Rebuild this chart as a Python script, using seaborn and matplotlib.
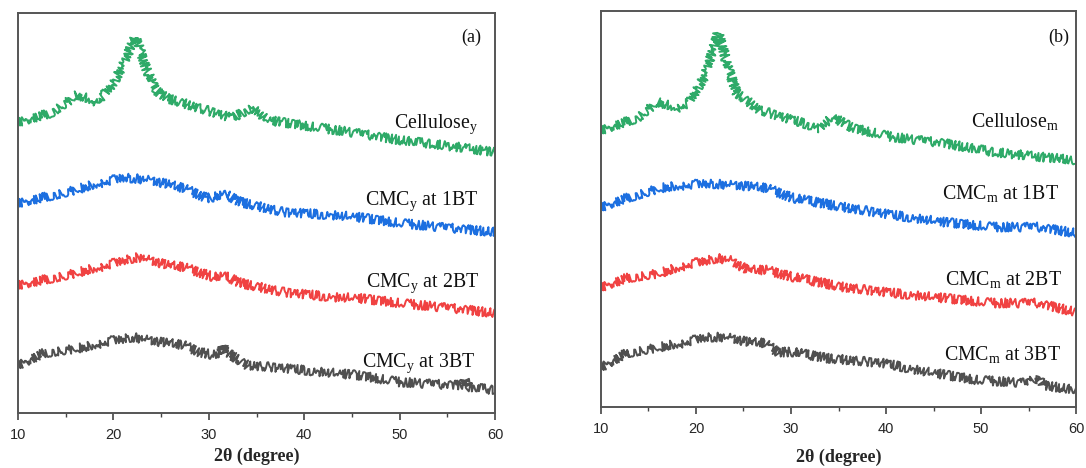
import matplotlib
matplotlib.use("Agg")
import matplotlib.pyplot as plt
from matplotlib.ticker import MultipleLocator
import seaborn as sns
import pandas as pd

sns.set_theme(style="white")
plt.rcParams["font.family"] = ["Liberation Serif", "DejaVu Serif"]
plt.rcParams["mathtext.fontset"] = "custom"
plt.rcParams["mathtext.rm"] = "Liberation Serif"
plt.rcParams["mathtext.it"] = "Liberation Serif:italic"

# ---- XRD patterns (2theta in degrees, intensity in a.u., stacked with offsets) ----
# Panel (a): cellulose and CMC from source y
cell_y_tt = [10, 13.4, 16.2, 18.3, 20, 21.4, 21.9, 22.3, 22.7, 23.5, 24.4, 25.6, 29, 32.5, 34.5, 36.1, 39.6, 44.8, 50, 55.3, 60]
cell_y_int = [291, 300, 318, 311, 330, 356, 368, 376, 366, 343, 323, 315, 305, 295, 306, 293, 288, 281, 273, 267, 261]

cmc_y1_tt = [10, 15.1, 18.6, 21, 23.8, 27.3, 29.8, 31.9, 33.3, 37.8, 43, 45.5, 50, 55.3, 60]
cmc_y1_int = [210, 221, 230, 236, 233, 225, 215, 218, 211, 201, 198, 196, 190, 185, 181]

cmc_y2_tt = [10, 15.1, 18.6, 21, 22.7, 25.6, 27.3, 30.5, 32, 33.3, 37.8, 43, 45.5, 50, 55.3, 60]
cmc_y2_int = [128, 138, 146, 153, 156, 148, 146, 136, 136, 130, 121, 116, 115, 110, 105, 100]

cmc_y3_tt = [10, 12.7, 17.1, 20, 22, 24.9, 27.3, 29, 30.5, 31.3, 31.5, 31.7, 32, 34, 37.8, 43, 45.5, 50, 55.3, 56.7, 56.9, 57.2, 60]
cmc_y3_int = [48, 60, 66, 73, 76, 71, 68, 61, 58, 59, 68, 60, 60, 48, 45, 40, 38, 31, 28, 28, 34, 26, 23]

# Panel (b): cellulose and CMC from source m
cell_m_tt = [10, 13.8, 15.9, 18, 19.2, 20.8, 21.8, 22.3, 22.8, 23.2, 24.3, 26.7, 30.2, 33, 34.4, 36.5, 40.7, 46, 51.3, 56.5, 60]
cell_m_int = [277, 289, 305, 299, 304, 329, 357, 374, 362, 344, 314, 297, 287, 279, 290, 279, 270, 264, 255, 250, 247]

cmc_m1_tt = [10, 12.7, 16.2, 20.8, 23.9, 27.4, 30.2, 35.5, 40.8, 46, 51.3, 55.9, 60]
cmc_m1_int = [200, 209, 219, 224, 222, 219, 209, 200, 192, 185, 180, 180, 174]

cmc_m2_tt = [10, 12.7, 16.2, 19.7, 22.2, 23.6, 25.4, 27.4, 30.2, 35.5, 40.8, 46, 51.3, 55.9, 60]
cmc_m2_int = [120, 129, 134, 144, 149, 147, 137, 137, 130, 120, 114, 109, 104, 104, 95]

cmc_m3_tt = [10, 12.7, 16.2, 18.6, 20.8, 23.2, 25.4, 27.2, 28.6, 30.2, 33.7, 39.7, 44.4, 49.6, 54.9, 56.1, 56.5, 60]
cmc_m3_int = [40, 54, 60, 64, 70, 70, 65, 64, 55, 55, 49, 44, 35, 27, 24, 30, 22, 17]

labels_a = ["Cellulose$_\\mathregular{y}$", "CMC$_\\mathregular{y}$ at 1BT",
            "CMC$_\\mathregular{y}$ at 2BT", "CMC$_\\mathregular{y}$ at 3BT"]
labels_b = ["Cellulose$_\\mathregular{m}$", "CMC$_\\mathregular{m}$ at 1BT",
            "CMC$_\\mathregular{m}$ at 2BT", "CMC$_\\mathregular{m}$ at 3BT"]
xticks = [10, 20, 30, 40, 50, 60]

colors = ["#2eaa68", "#1c6fe0", "#f04242", "#505050"]


def frame(tt, inten, name):
    return pd.DataFrame({"2theta": tt, "intensity": inten, "sample": name})


panel_a = [frame(cell_y_tt, cell_y_int, labels_a[0]), frame(cmc_y1_tt, cmc_y1_int, labels_a[1]),
           frame(cmc_y2_tt, cmc_y2_int, labels_a[2]), frame(cmc_y3_tt, cmc_y3_int, labels_a[3])]
panel_b = [frame(cell_m_tt, cell_m_int, labels_b[0]), frame(cmc_m1_tt, cmc_m1_int, labels_b[1]),
           frame(cmc_m2_tt, cmc_m2_int, labels_b[2]), frame(cmc_m3_tt, cmc_m3_int, labels_b[3])]

fig = plt.figure(figsize=(10.86, 4.68), dpi=100)
ax_a = fig.add_axes([0.0166, 0.1175, 0.4392, 0.8547])
ax_b = fig.add_axes([0.5534, 0.1303, 0.4374, 0.8462])

label_pos_a = [(58.2, 285), (58.2, 208), (58.3, 126), (57.9, 46)]
label_pos_b = [(58.2, 280), (58.2, 208), (58.5, 122), (58.4, 47)]


def draw(ax, frames, positions, tag, tag_pos, ytop, lpad):
    for df, c, (tx, ty) in zip(frames, colors, positions):
        sns.lineplot(data=df, x="2theta", y="intensity", ax=ax, color=c,
                     linewidth=1.4, legend=False)
        # detector noise texture on the trace
        ax.lines[-1].set_sketch_params(scale=4.6, length=0.5, randomness=6)
        ax.text(tx, ty, df["sample"].iloc[0], ha="right", va="baseline",
                fontsize=14.3, color="#111111")
    ax.text(tag_pos[0], tag_pos[1], tag, ha="right", va="baseline",
            fontsize=13, color="#111111")
    ax.set_xlim(10, 60)
    ax.set_ylim(0, ytop)
    ax.set_yticks([])
    ax.set_xticks(xticks)
    ax.set_xticklabels([str(t) for t in xticks], family="Liberation Sans", fontsize=10.5)
    ax.xaxis.set_minor_locator(MultipleLocator(5))
    ax.tick_params(axis="x", which="major", direction="out", length=5, width=1.2,
                   color="#444444", bottom=True, pad=6)
    ax.tick_params(axis="x", which="minor", direction="out", length=3, width=1.0,
                   color="#444444", bottom=True)
    ax.set_xlabel("2θ (degree)", fontsize=13, fontweight="bold",
                  family=["Liberation Serif", "DejaVu Serif"], labelpad=lpad)
    ax.set_ylabel("")
    for s in ax.spines.values():
        s.set_color("#555555")
        s.set_linewidth(1.4)


draw(ax_a, panel_a, label_pos_a, "(a)", (58.6, 371), 400, 4)
draw(ax_b, panel_b, label_pos_b, "(b)", (59.3, 365), 396, 9)

fig.savefig("out.png", dpi=100, facecolor="white")
